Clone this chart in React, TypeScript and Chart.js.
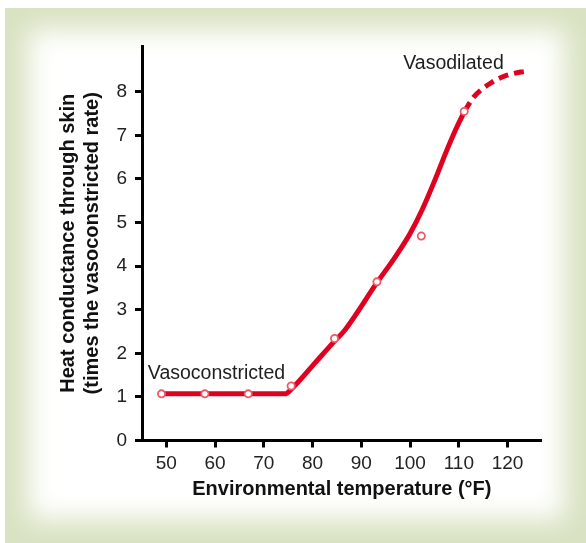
import React, { useEffect, useRef } from 'react';
import { Chart, registerables } from 'chart.js';

Chart.register(...registerables);

const FONT = '"Liberation Sans", Arial, Helvetica, sans-serif';

// Measured data points (hollow circles)
const measuredTemps = [49, 57.9, 66.8, 75.6, 84.5, 93.2, 102.3, 111.1];
const measuredConductance = [1.07, 1.07, 1.07, 1.25, 2.34, 3.64, 4.69, 7.55];

// Fitted curve (solid)
const curveTemps = [49, 74.3, 76, 80.5, 84.5, 86.6, 93.2, 97, 100, 102.5, 105, 107.5, 109.5, 111.2];
const curveConductance = [1.07, 1.07, 1.22, 1.78, 2.28, 2.53, 3.62, 4.22, 4.75, 5.3, 5.95, 6.65, 7.17, 7.56];

// Extrapolated curve (dashed)
const extrapTemps = [111.2, 113, 116.4, 119.9, 124.2];
const extrapConductance = [7.56, 7.87, 8.19, 8.38, 8.48];

// Tick labels
const xTickValues = [50, 60, 70, 80, 90, 100, 110, 120];
const yTickValues = [0, 1, 2, 3, 4, 5, 6, 7, 8];

// Annotations (anchored in data units)
const annotationLabels = ['Vasoconstricted', 'Vasodilated'];
const annotationTemps = [46.2, 98.6];
const annotationConductance = [1.41, 8.52];

const zip = (xs: number[], ys: number[]) => xs.map((x, i) => ({ x, y: ys[i] }));

const annotationPlugin = {
  id: 'annotations',
  afterDatasetsDraw(chart: any) {
    const { ctx, scales } = chart;
    ctx.save();
    ctx.font = `19.5px ${FONT}`;
    ctx.fillStyle = '#1e1e1e';
    ctx.textAlign = 'left';
    ctx.textBaseline = 'alphabetic';
    annotationLabels.forEach((t, i) => {
      ctx.fillText(
        t,
        scales.x.getPixelForValue(annotationTemps[i]),
        scales.y.getPixelForValue(annotationConductance[i])
      );
    });
    ctx.restore();
  },
};

export default function App() {
  const ref = useRef<HTMLCanvasElement>(null);

  useEffect(() => {
    if (!ref.current) return;
    const red = '#e0001f';
    const chart = new Chart(ref.current, {
      type: 'line',
      data: {
        datasets: [
          {
            label: 'Measured',
            data: zip(measuredTemps, measuredConductance),
            showLine: false,
            pointRadius: 3.6,
            pointBorderWidth: 1.8,
            pointBorderColor: '#ec5866',
            pointBackgroundColor: '#ffffff',
            order: 0,
          },
          {
            label: 'Curve',
            data: zip(curveTemps, curveConductance),
            borderColor: red,
            borderWidth: 5,
            pointRadius: 0,
            cubicInterpolationMode: 'monotone',
            fill: false,
            order: 1,
          },
          {
            label: 'Extrapolated',
            data: zip(extrapTemps, extrapConductance),
            borderColor: red,
            borderWidth: 5,
            borderDash: [10, 6],
            pointRadius: 0,
            cubicInterpolationMode: 'monotone',
            fill: false,
            order: 1,
          },
        ],
      },
      options: {
        responsive: false,
        animation: false,
        layout: { padding: { left: 44, right: 44.3, top: 46, bottom: 32.5 } },
        plugins: { legend: { display: false }, tooltip: { enabled: false } },
        scales: {
          x: {
            type: 'linear',
            min: 45,
            max: 127,
            border: { color: '#000', width: 3 },
            grid: { drawOnChartArea: false, tickLength: 7, tickWidth: 3, tickColor: '#000' },
            ticks: {
              font: { size: 19, family: FONT },
              color: '#222',
              padding: 5,
              autoSkip: false,
              maxRotation: 0,
            },
            afterBuildTicks: (s: any) => {
              s.ticks = xTickValues.map((v) => ({ value: v }));
            },
            afterFit: (s: any) => {
              s.height = 70;
            },
            title: {
              display: true,
              text: 'Environmental temperature (°F)',
              font: { size: 20, weight: 'bold', family: FONT },
              color: '#111',
              padding: { top: 0, bottom: 9 },
            },
          },
          y: {
            type: 'linear',
            min: 0,
            max: 9.05,
            border: { color: '#000', width: 3 },
            grid: { drawOnChartArea: false, tickLength: 7, tickWidth: 3, tickColor: '#000' },
            ticks: {
              font: { size: 19, family: FONT },
              color: '#222',
              padding: 8,
              autoSkip: false,
            },
            afterBuildTicks: (s: any) => {
              s.ticks = yTickValues.map((v) => ({ value: v }));
            },
            afterFit: (s: any) => {
              s.width = 98;
            },
            title: {
              display: true,
              text: ['Heat conductance through skin', '(times the vasoconstricted rate)'],
              font: { size: 20, weight: 'bold', family: FONT, lineHeight: 1.2 },
              color: '#111',
              padding: { top: 12, bottom: 0 },
            },
          },
        },
      },
      plugins: [annotationPlugin],
    } as any);
    return () => chart.destroy();
  }, []);

  return (
    <div style={{ position: 'absolute', left: 0, top: 0, width: 586, height: 543, overflow: 'hidden' }}>
      <div
        style={{
          position: 'absolute',
          left: 5,
          top: 8,
          width: 581,
          height: 535,
          background: '#d9e3c3',
          overflow: 'hidden',
        }}
      >
        <div
          style={{
            position: 'absolute',
            left: 24,
            top: 22,
            right: 22,
            bottom: 24,
            background: '#ffffff',
            filter: 'blur(13px)',
          }}
        />
      </div>
      <canvas
        ref={ref}
        width={586}
        height={543}
        style={{ position: 'absolute', left: 0, top: 0, width: 586, height: 543 }}
      />
    </div>
  );
}
